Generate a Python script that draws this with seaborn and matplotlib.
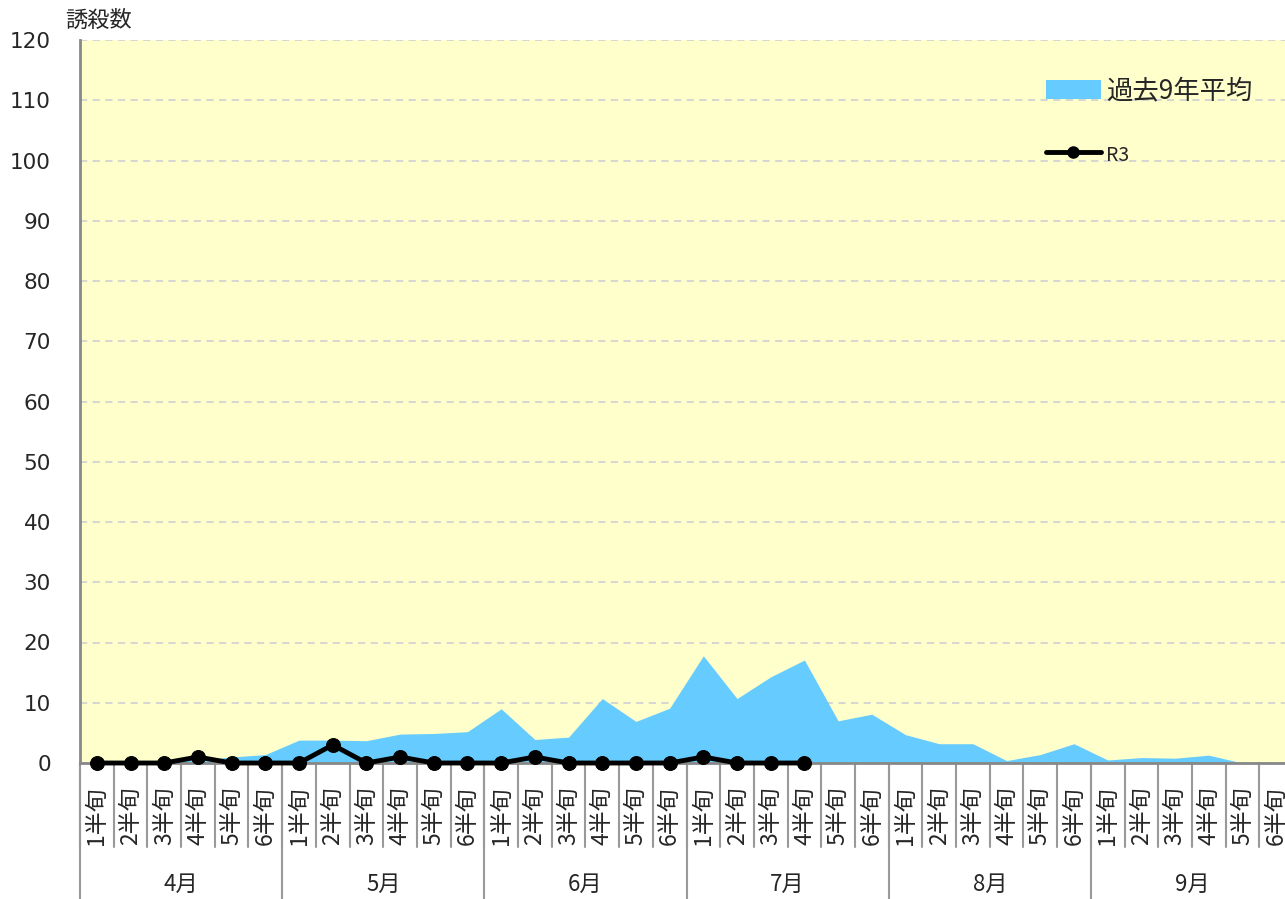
import numpy as np
import pandas as pd
import matplotlib
matplotlib.use("Agg")
import matplotlib.pyplot as plt
import matplotlib.transforms as mtransforms
from matplotlib.patches import Patch
from matplotlib.lines import Line2D
import seaborn as sns

months = ["4月", "5月", "6月", "7月", "8月", "9月"]
hanjun = ["1半旬", "2半旬", "3半旬", "4半旬", "5半旬", "6半旬"]

avg9 = [0.2, 0.2, 0.3, 0.5, 1.0, 1.4,
        3.8, 3.8, 3.7, 4.8, 4.9, 5.2,
        9.0, 3.9, 4.3, 10.7, 6.9, 9.1,
        17.8, 10.7, 14.3, 17.1, 7.0, 8.1,
        4.7, 3.2, 3.2, 0.4, 1.4, 3.2,
        0.5, 0.9, 0.8, 1.3, 0.0, 0.0]

r3 = [0, 0, 0, 1, 0, 0,
      0, 3, 0, 1, 0, 0,
      0, 1, 0, 0, 0, 0,
      1, 0, 0, 0]

sns.set_style("white")
plt.rcParams['font.family'] = ['Noto Sans CJK JP', 'DejaVu Sans']

labels = [h for m in months for h in hanjun]
x = np.arange(len(labels))
df_avg = pd.DataFrame({"x": x, "v": avg9})
df_r3 = pd.DataFrame({"x": x[:len(r3)], "v": r3})

fig = plt.figure(figsize=(12.85, 8.99), dpi=100)
ax = fig.add_axes([80 / 1285, 136 / 899, 1213 / 1285, 723 / 899])
ax.set_facecolor("#FFFFCC")

ax.fill_between(df_avg["x"], 0, df_avg["v"], color="#66CCFF", lw=0, zorder=2)
sns.lineplot(data=df_r3, x="x", y="v", ax=ax, color="black", lw=3.5,
             marker="o", markersize=10, markeredgecolor="black", zorder=4,
             clip_on=False)

ax.set_xlim(-0.5, len(labels) - 0.5)
ax.set_ylim(0, 120)
ax.set_yticks(np.arange(0, 121, 10))
ax.set_yticks(np.arange(5, 121, 10), minor=True)
ax.yaxis.grid(True, which="major", color="#D3D3D3", ls=(0, (4, 3)), lw=1.3, zorder=1)
ax.set_axisbelow(True)
ax.tick_params(axis="y", which="major", direction="out", length=8, width=1.5,
               color="#888888", labelsize=15.5, pad=13)
ax.tick_params(axis="y", which="minor", direction="in", length=7, width=1.5,
               color="#888888")
for lab in ax.get_yticklabels():
    lab.set_family("DejaVu Sans")
ax.set_xticks([])
ax.set_xlabel("")
ax.set_ylabel("")
for s in ["top", "right"]:
    ax.spines[s].set_visible(False)
for s in ["left", "bottom"]:
    ax.spines[s].set_color("#888888")
    ax.spines[s].set_linewidth(2)

# two-level category axis
trans = mtransforms.blended_transform_factory(ax.transData, ax.transAxes)
h_px = 723
for i, lab in enumerate(labels):
    ax.text(i, -82 / h_px, lab, transform=trans, rotation=90, ha="center",
            va="bottom", fontsize=16.5)
    ax.plot([i - 0.5, i - 0.5], [0, -84 / h_px], transform=trans,
            color="#999999", lw=1.5, clip_on=False)
for j, m in enumerate(months):
    ax.text(j * 6 + 2.5, -121 / h_px, m, transform=trans, ha="center",
            va="center", fontsize=16)
    ax.plot([j * 6 - 0.5, j * 6 - 0.5], [0, -140 / h_px], transform=trans,
            color="#999999", lw=1.5, clip_on=False)

fig.text(65 / 1285, 1 - 20 / 899, "誘殺数", fontsize=16, ha="left", va="center")

handles = [Patch(facecolor="#66CCFF", edgecolor="none"),
           Line2D([0], [0], color="black", lw=3.5, marker="o", markersize=8)]
leg = fig.legend(handles, ["過去9年平均", "R3"], loc="upper left",
                 bbox_to_anchor=(1022 / 1285, 1 - 54 / 899), frameon=False,
                 fontsize=19, labelspacing=1.45, handlelength=2.1,
                 handleheight=0.7, handletextpad=0.2)
leg.get_texts()[1].set_fontsize(14)

fig.savefig("out.png", dpi=100, facecolor="white")
